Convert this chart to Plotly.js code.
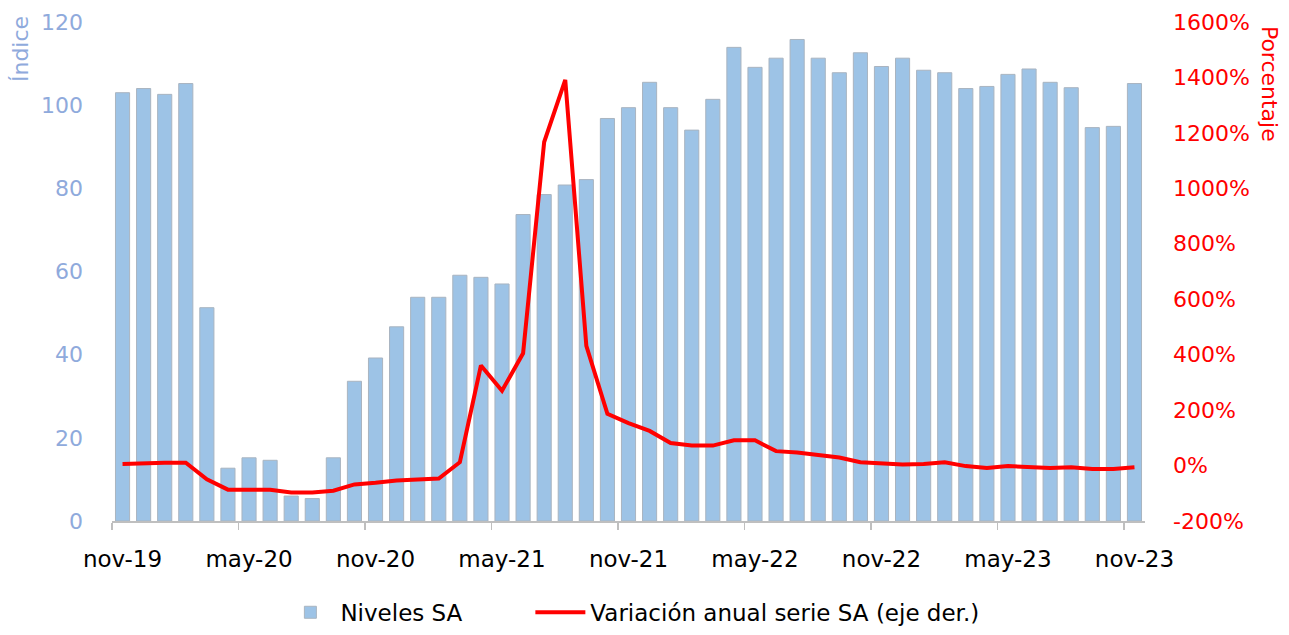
<!DOCTYPE html>
<html>
<head>
<meta charset="utf-8">
<script src="https://cdn.plot.ly/plotly-3.0.1.min.js"></script>
<style>html,body{margin:0;padding:0;background:#fff;}#chart{width:1289px;height:635px;}</style>
</head>
<body>
<div id="chart"></div>
<script>
const months = [
  "nov-19","dic-19","ene-20","feb-20","mar-20","abr-20","may-20","jun-20","jul-20","ago-20","sep-20","oct-20",
  "nov-20","dic-20","ene-21","feb-21","mar-21","abr-21","may-21","jun-21","jul-21","ago-21","sep-21","oct-21",
  "nov-21","dic-21","ene-22","feb-22","mar-22","abr-22","may-22","jun-22","jul-22","ago-22","sep-22","oct-22",
  "nov-22","dic-22","ene-23","feb-23","mar-23","abr-23","may-23","jun-23","jul-23","ago-23","sep-23","oct-23",
  "nov-23"
];
const nivelesSA = [
  103.0,104.0,102.6,105.2,51.3,12.7,15.2,14.6,6.0,5.4,15.2,33.6,
  39.2,46.7,53.8,53.8,59.1,58.6,57.0,73.7,78.5,80.8,82.1,96.8,
  99.4,105.5,99.4,94.0,101.4,113.9,109.1,111.3,115.8,111.3,107.8,112.6,
  109.3,111.3,108.4,107.8,104.0,104.5,107.4,108.7,105.5,104.2,94.6,94.9,
  105.2
];
const variacionAnual = [
  6,9,10,10,-50,-87,-87,-87,-97,-97,-91,-68,
  -62,-54,-50,-47,12,361,270,405,1167,1391,432,187,
  153,125,81,72,72,91,91,52,47,37,29,12,
  7,4,6,12,-2,-9,-2,-6,-9,-6,-12,-12,
  -6
];
const leftTicks = [0,20,40,60,80,100,120];
const rightTicks = [-200,0,200,400,600,800,1000,1200,1400,1600];
const rightTickText = rightTicks.map(v => v + "%");

const FONT = "DejaVu Sans, sans-serif";
const BLUE_TXT = "#8faadc";

const data = [
  {
    type: "bar",
    name: "Niveles SA",
    x: months,
    y: nivelesSA,
    marker: {color: "#9dc3e6", line: {color: "#a9b4c0", width: 1}},
    yaxis: "y",
    legend: "legend"
  },
  {
    type: "scatter",
    mode: "lines",
    name: "Variación anual serie SA (eje der.)",
    x: months,
    y: variacionAnual,
    line: {color: "#ff0000", width: 4},
    yaxis: "y2",
    legend: "legend2"
  }
];

const legendCommon = {
  orientation: "h",
  xanchor: "left",
  y: -0.183, yanchor: "middle",
  font: {family: FONT, size: 23, color: "#000"},
  itemwidth: 50,
  bgcolor: "rgba(0,0,0,0)"
};

const layout = {
  width: 1289,
  height: 635,
  margin: {l: 112, r: 144, t: 22, b: 114, autoexpand: false},
  paper_bgcolor: "#ffffff",
  plot_bgcolor: "#ffffff",
  font: {family: FONT, size: 22, color: "#000"},
  bargap: 0.33,
  showlegend: true,
  legend: Object.assign({}, legendCommon, {x: 0.163}),
  legend2: Object.assign({}, legendCommon, {x: 0.405}),
  xaxis: {
    type: "category",
    range: [-0.5, 48.5],
    dtick: 6,
    tickson: "boundaries",
    tickangle: 0,
    ticks: "outside",
    ticklen: 7,
    tickcolor: "#bfbfbf",
    tickwidth: 1.5,
    showline: true,
    linecolor: "#bfbfbf",
    linewidth: 1.5,
    showgrid: false,
    zeroline: false,
    ticklabelstandoff: 17,
    tickfont: {family: FONT, size: 23, color: "#000"},
    fixedrange: true
  },
  yaxis: {
    range: [0, 120],
    tickvals: leftTicks,
    ticks: "",
    showgrid: false,
    zeroline: false,
    showline: false,
    ticklabelstandoff: 28,
    tickfont: {family: FONT, size: 22, color: BLUE_TXT},
    fixedrange: true
  },
  yaxis2: {
    overlaying: "y",
    side: "right",
    range: [-200, 1600],
    tickvals: rightTicks,
    ticktext: rightTickText,
    ticks: "",
    showgrid: false,
    zeroline: false,
    showline: false,
    ticklabelstandoff: 27,
    tickfont: {family: FONT, size: 22, color: "#ff0000"},
    fixedrange: true
  },
  annotations: [
    {
      text: "Índice",
      xref: "paper", yref: "paper",
      x: -0.0885, y: 0.945,
      xanchor: "center", yanchor: "middle",
      textangle: -90,
      showarrow: false,
      font: {family: FONT, size: 22, color: BLUE_TXT}
    },
    {
      text: "Porcentaje",
      xref: "paper", yref: "paper",
      x: 1.1205, y: 0.875,
      xanchor: "center", yanchor: "middle",
      textangle: 90,
      showarrow: false,
      font: {family: FONT, size: 22, color: "#ff0000"}
    }
  ]
};

Plotly.newPlot("chart", data, layout, {displayModeBar: false, staticPlot: true});
</script>
</body>
</html>
